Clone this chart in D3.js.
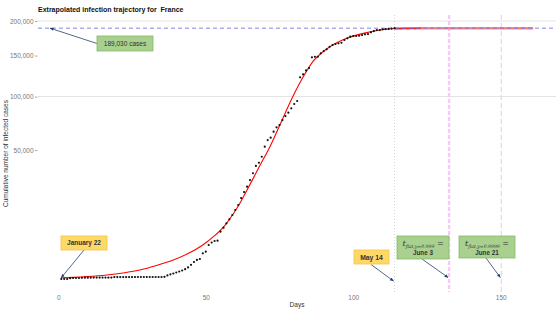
<!DOCTYPE html>
<html>
<head>
<meta charset="utf-8">
<script src="https://cdn.jsdelivr.net/npm/d3@7"></script>
<style>
  body { margin: 0; background: #fff; }
  svg { display: block; font-family: "Liberation Sans", Arial, sans-serif; }
</style>
</head>
<body>
<svg id="chart" width="560" height="315"></svg>
<script>
// Extrapolated infection trajectory, France. Sqrt y scale, day index on x.

// Observed cumulative cases, one value per day starting at day 1 (January 22).
const FIRST_DAY = 1;
const observed = [
  0, 0, 0, 2, 3, 3, 3, 4, 5, 5,
  5, 6, 6, 6, 6, 6, 6, 6, 11, 11,
  11, 11, 11, 11, 11, 12, 12, 12, 12, 12,
  12, 12, 12, 12, 12, 14, 38, 66, 91, 127,
  169, 217, 290, 400, 600, 870, 1090, 1200, 1980, 2240,
  3470, 4000, 4340, 4420, 6720, 7900, 9320, 10700, 12300, 14300,
  16450, 19700, 22700, 25600, 29400, 33600, 38400, 40600, 44900, 52600,
  58000, 60000, 65200, 69100, 71200, 75900, 79800, 83100, 87500, 92000,
  95200, 122200, 125800, 130700, 133700, 147600, 148400, 148400, 153000, 156100,
  158500, 162100, 164500, 165900, 166900, 167700, 171600, 174000, 176400, 177400,
  177400, 177800, 178800, 179900, 180300, 182800, 184700, 186200, 186200, 187300,
  187700, 187900, 188400, 189000
];

// Fitted curve.
const fitDays = [1, 5, 10, 16.4, 22, 28, 33, 39, 44, 49, 53, 56, 60.5, 65, 68.4, 72,
  75.2, 79.7, 83, 86.5, 89.5, 92.1, 97.8, 103.4, 109.1, 114.8, 118, 123];
const fitValues = [5, 8, 18, 48, 110, 256, 529, 1090, 1940, 3480, 5630, 8100, 14900, 26900, 38800, 53800,
  71800, 101100, 122500, 142900, 154400, 162100, 174000, 181300, 186200, 188450, 188850, 188980];

// Extrapolated plateau.
const extDays = [114, 123, 140, 161];
const extValues = [188300, 188980, 189030, 189030];

const FINAL_CASES = 189030;
const LAST_DAY = 114;          // May 14
const T_FLAT_999 = 132.5;      // June 3
const T_FLAT_9999 = 150.2;     // June 21

const yTicks = [50000, 100000, 150000, 200000];
const yGrid = [100000, 200000];
const xTicks = [0, 50, 100, 150];

const svg = d3.select("#chart");

const x = d3.scaleLinear().domain([0, 150]).range([58.3, 500.7]);
const y = d3.scaleSqrt().domain([0, 200000]).range([279, 21]);

const PANEL = { left: 38, right: 556, top: 15, bottom: 292 };

// Arrow head marker.
svg.append("defs").append("marker")
  .attr("id", "arrow")
  .attr("viewBox", "0 0 10 10")
  .attr("refX", 9).attr("refY", 5)
  .attr("markerWidth", 5).attr("markerHeight", 5)
  .attr("orient", "auto")
  .append("path")
  .attr("d", "M0,1 L10,5 L0,9 Z")
  .attr("fill", "#24406e");

// Grid.
svg.append("g").selectAll("line")
  .data(yGrid)
  .join("line")
  .attr("x1", PANEL.left).attr("x2", PANEL.right)
  .attr("y1", (d) => y(d)).attr("y2", (d) => y(d))
  .attr("stroke", "#e4e4e4").attr("stroke-width", 1);

// Y axis.
const yAxis = svg.append("g")
  .attr("transform", `translate(${PANEL.left - 0.5},0)`)
  .call(d3.axisLeft(y).tickValues(yTicks).tickFormat(d3.format(",")).tickSize(2.5).tickPadding(1.5));
yAxis.select(".domain").remove();
yAxis.selectAll("line").attr("stroke", "#aaa");
yAxis.selectAll("text").attr("fill", "#777").attr("font-size", 6.5).attr("font-family", null);

// X axis.
const xAxis = svg.append("g")
  .attr("transform", `translate(0,${PANEL.bottom})`)
  .call(d3.axisBottom(x).tickValues(xTicks).tickSize(0).tickPadding(3));
xAxis.select(".domain").remove();
xAxis.selectAll("text").attr("fill", "#777").attr("font-size", 6.5).attr("font-family", null);

// Reference lines.
svg.append("line")
  .attr("x1", x(LAST_DAY)).attr("x2", x(LAST_DAY))
  .attr("y1", PANEL.top).attr("y2", PANEL.bottom)
  .attr("stroke", "#c8c8c8").attr("stroke-width", 0.8).attr("stroke-dasharray", "1,2");

svg.append("line")
  .attr("x1", x(T_FLAT_999)).attr("x2", x(T_FLAT_999))
  .attr("y1", PANEL.top).attr("y2", PANEL.bottom)
  .attr("stroke", "#f8c8f8").attr("stroke-width", 2.4).attr("stroke-dasharray", "4,2");

svg.append("line")
  .attr("x1", x(T_FLAT_9999)).attr("x2", x(T_FLAT_9999))
  .attr("y1", PANEL.top).attr("y2", PANEL.bottom)
  .attr("stroke", "#f2c4f2").attr("stroke-width", 1).attr("stroke-dasharray", "5,3");

// Extrapolated plateau (thick, light red).
const line = d3.line()
  .x((d) => x(d[0]))
  .y((d) => y(d[1]))
  .curve(d3.curveMonotoneX);

svg.append("path")
  .datum(d3.zip(extDays, extValues))
  .attr("d", line)
  .attr("fill", "none")
  .attr("stroke", "#ff8080").attr("stroke-width", 2.6);

// Fitted curve.
svg.append("path")
  .datum(d3.zip(fitDays, fitValues))
  .attr("d", line)
  .attr("fill", "none")
  .attr("stroke", "#ff0000").attr("stroke-width", 1.1);

// Final size.
svg.append("line")
  .attr("x1", PANEL.left).attr("x2", PANEL.right)
  .attr("y1", y(FINAL_CASES)).attr("y2", y(FINAL_CASES))
  .attr("stroke", "#7676e6").attr("stroke-width", 0.9).attr("stroke-dasharray", "4,3");

// Observed points.
svg.append("g").selectAll("circle")
  .data(observed)
  .join("circle")
  .attr("cx", (d, i) => x(i + FIRST_DAY))
  .attr("cy", (d) => y(d))
  .attr("r", 1.1)
  .attr("fill", "#111");

// Titles.
svg.append("text")
  .attr("x", 38).attr("y", 11.5)
  .attr("font-size", 7).attr("font-weight", "bold").attr("fill", "#111")
  .style("white-space", "pre")
  .text("Extrapolated infection trajectory for  France");

svg.append("text")
  .attr("transform", `translate(7.5,${(PANEL.top + PANEL.bottom) / 2}) rotate(-90)`)
  .attr("text-anchor", "middle")
  .attr("font-size", 6.5).attr("fill", "#333")
  .text("Cumulative number of infected cases");

svg.append("text")
  .attr("x", (PANEL.left + PANEL.right) / 2).attr("y", 307)
  .attr("text-anchor", "middle")
  .attr("font-size", 6.5).attr("fill", "#333")
  .text("Days");

// Annotation callouts: box in pixels, arrow head at a data point.
const GREEN = { fill: "#a9d08e", stroke: "#86b964" };
const ORANGE = { fill: "#ffd966", stroke: "#f3c04a" };

function callout(box, style, tail, head) {
  const g = svg.append("g");
  g.append("line")
    .attr("x1", tail[0]).attr("y1", tail[1])
    .attr("x2", head[0]).attr("y2", head[1])
    .attr("stroke", "#24406e").attr("stroke-width", 0.8)
    .attr("marker-end", "url(#arrow)");
  g.append("rect")
    .attr("x", box[0]).attr("y", box[1]).attr("width", box[2]).attr("height", box[3])
    .attr("fill", style.fill).attr("stroke", style.stroke).attr("stroke-width", 0.8);
  return g;
}

// 189,030 cases
let g = callout([97, 36, 56, 15], GREEN, [97, 43.5], [x(-2.8), y(FINAL_CASES)]);
g.append("text").attr("x", 125).attr("y", 46.3).attr("text-anchor", "middle")
  .attr("font-size", 6.5).attr("fill", "#333").text("189,030 cases");

// January 22
g = callout([61, 236, 46, 14], ORANGE, [84, 250], [x(FIRST_DAY), y(5)]);
g.append("text").attr("x", 84).attr("y", 245.3).attr("text-anchor", "middle")
  .attr("font-size", 6.5).attr("font-weight", "bold").attr("fill", "#333").text("January 22");

// May 14
g = callout([354, 250, 35, 14], ORANGE, [371, 264.5], [x(LAST_DAY) - 1, y(0) + 2]);
g.append("text").attr("x", 371.5).attr("y", 259.5).attr("text-anchor", "middle")
  .attr("font-size", 6.8).attr("font-weight", "bold").attr("fill", "#333").text("May 14");

// t_flat boxes
function tFlatBox(box, sub, date, lineDay) {
  const cx = box[0] + box[2] / 2;
  const gg = callout(box, GREEN, [cx - 1, box[1] + box[3]], [x(lineDay) - 1, y(0) - 1.5]);
  const t = gg.append("text").attr("x", cx).attr("y", box[1] + 10).attr("text-anchor", "middle")
    .attr("fill", "#333").attr("font-family", "'DejaVu Serif', serif");
  t.append("tspan").attr("font-size", 8).attr("font-style", "italic").text("t");
  t.append("tspan").attr("font-size", 4.6).attr("font-style", "italic").attr("dy", 1.5).text(sub);
  t.append("tspan").attr("font-size", 8).attr("dy", -1.5).text(" =");
  gg.append("text").attr("x", cx).attr("y", box[1] + 18.5).attr("text-anchor", "middle")
    .attr("font-size", 6.3).attr("font-weight", "bold").attr("fill", "#333").text(date);
}
tFlatBox([397, 236, 52, 23], "flat,y=0.999", "June 3", T_FLAT_999);
tFlatBox([459, 236, 56, 22], "flat,y=0.9999", "June 21", T_FLAT_9999);
</script>
</body>
</html>
